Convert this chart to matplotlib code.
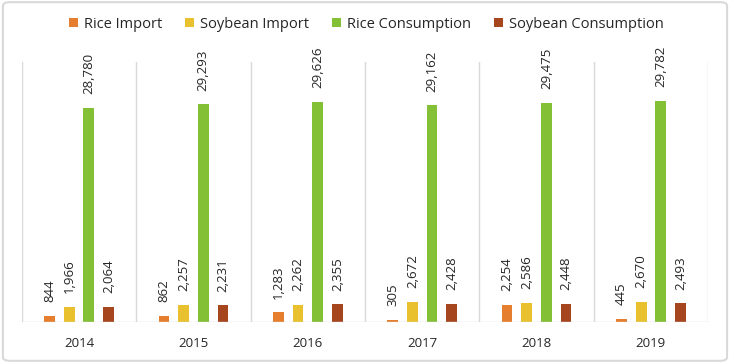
import numpy as np
import matplotlib.pyplot as plt
from matplotlib.patches import FancyBboxPatch

years = ["2014", "2015", "2016", "2017", "2018", "2019"]
series = ["Rice Import", "Soybean Import", "Rice Consumption", "Soybean Consumption"]
rice_import = [844, 862, 1283, 305, 2254, 445]
soybean_import = [1966, 2257, 2262, 2672, 2586, 2670]
rice_consumption = [28780, 29293, 29626, 29162, 29475, 29782]
soybean_consumption = [2064, 2231, 2355, 2428, 2448, 2493]
colors = ["#E67E2F", "#E9C02E", "#84C036", "#A5461F"]

plt.rcParams['font.family'] = ['Open Sans', 'DejaVu Sans']

fig = plt.figure(figsize=(7.3, 3.63), dpi=100)
ax = fig.add_axes([0.030, 0.113, 0.940, 0.716])

values = [rice_import, soybean_import, rice_consumption, soybean_consumption]
x = np.arange(len(years))
step = 0.172
width = 0.095
for i, (name, vals, c) in enumerate(zip(series, values, colors)):
    pos = x + (i - 1.5) * step
    ax.bar(pos, vals, width=width, color=c, label=name, zorder=3)
    for p, v in zip(pos, vals):
        ax.annotate("{:,}".format(v), (p, v), textcoords="offset points",
                    xytext=(0, 10), rotation=90, ha='center', va='bottom',
                    fontsize=9.5, color='#262626')

ax.set_xlim(-0.5, len(years) - 0.5)
ax.set_ylim(0, 35000)
for b in np.arange(-0.5, len(years), 1.0):
    ax.axvline(b, color='#d9d9d9', lw=1, zorder=1)
for s in ax.spines.values():
    s.set_visible(False)
ax.axhline(0, color='#d9d9d9', lw=1, zorder=4)
ax.set_yticks([])
ax.set_xticks(x)
ax.set_xticklabels(years, fontsize=9.5, color='#262626')
ax.tick_params(axis='x', length=0, pad=11)

fig.legend(loc='upper center', bbox_to_anchor=(0.502, 0.99), ncol=4, frameon=False,
           fontsize=10.5, handlelength=0.6, handleheight=0.6, handletextpad=0.4,
           columnspacing=1.6, labelcolor='#262626')

border = FancyBboxPatch((0.004, 0.006), 0.992, 0.988, boxstyle="round,pad=0,rounding_size=0.01",
                        transform=fig.transFigure, fill=False, edgecolor='#d9d9d9', lw=1.5)
fig.patches.append(border)

fig.savefig("out.png", dpi=100, facecolor='white')
